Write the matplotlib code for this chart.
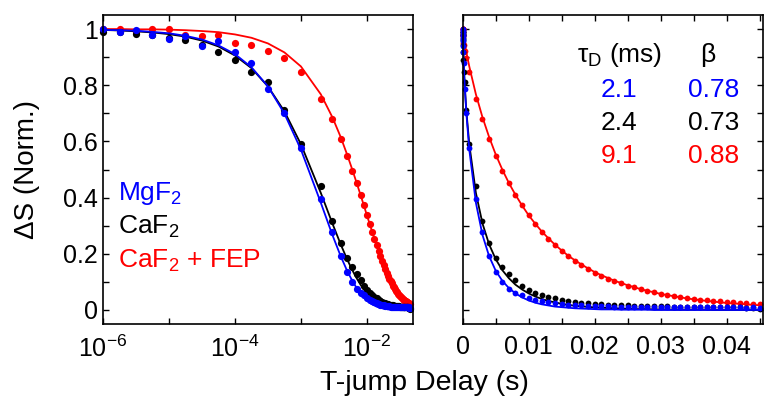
import numpy as np
import matplotlib
matplotlib.use('Agg')
import matplotlib.pyplot as plt
from matplotlib.ticker import MultipleLocator, NullLocator

plt.rcParams['font.family'] = ['Liberation Sans', 'DejaVu Sans']
plt.rcParams['mathtext.fontset'] = 'custom'
plt.rcParams['mathtext.rm'] = 'Liberation Sans'
plt.rcParams['mathtext.it'] = 'Liberation Sans:italic'
plt.rcParams['mathtext.bf'] = 'Liberation Sans:bold'

# T-jump delays in ms (quarter-decade steps, then 1 ms steps)
delay_ms = [0.001, 0.00178, 0.00316, 0.00562, 0.01, 0.0178, 0.0316, 0.0562,
            0.1, 0.178, 0.316, 0.562,
            1, 2, 3, 4, 5, 6, 7, 8, 9, 10,
            11, 12, 13, 14, 15, 16, 17, 18, 19, 20,
            21, 22, 23, 24, 25, 26, 27, 28, 29, 30,
            31, 32, 33, 34, 35, 36, 37, 38, 39, 40,
            41, 42, 43, 44, 45]

mgf2_pts = [1.00, 0.99, 0.996, 0.979, 0.964, 0.974, 0.941, 0.958, 0.917, 0.878, 0.786, 0.700,
            0.575, 0.394, 0.277, 0.192, 0.136, 0.100, 0.075, 0.062, 0.052, 0.042,
            0.036, 0.031, 0.027, 0.024, 0.021, 0.019, 0.017, 0.016, 0.015, 0.014,
            0.013, 0.013, 0.012, 0.012, 0.012, 0.011, 0.012, 0.011, 0.011, 0.012,
            0.011, 0.010, 0.011, 0.011, 0.010, 0.010, 0.011, 0.010, 0.009, 0.010,
            0.009, 0.009, 0.008, 0.009, 0.008]
mgf2_fit = [0.997, 0.996, 0.994, 0.990, 0.985, 0.976, 0.963, 0.942, 0.911, 0.864, 0.796, 0.699,
            0.571, 0.382, 0.267, 0.192, 0.140, 0.104, 0.078, 0.059, 0.045, 0.034,
            0.026, 0.020, 0.016, 0.012, 0.010, 0.008, 0.006, 0.005, 0.004, 0.003,
            0.002, 0.002, 0.002, 0.001, 0.001, 0.001, 0.001, 0.001, 0.0, 0.0,
            0.0, 0.0, 0.0, 0.0, 0.0, 0.0, 0.0, 0.0, 0.0, 0.0,
            0.0, 0.0, 0.0, 0.0, 0.0]

caf2_pts = [0.99, 0.99, 0.982, 0.978, 0.970, 0.960, 0.945, 0.917, 0.890, 0.848, 0.810, 0.712,
            0.591, 0.442, 0.318, 0.238, 0.186, 0.153, 0.127, 0.105, 0.087, 0.072,
            0.062, 0.053, 0.046, 0.041, 0.036, 0.032, 0.029, 0.026, 0.024, 0.022,
            0.020, 0.019, 0.018, 0.017, 0.016, 0.015, 0.015, 0.014, 0.014, 0.013,
            0.013, 0.012, 0.012, 0.012, 0.011, 0.011, 0.011, 0.010, 0.010, 0.010,
            0.009, 0.009, 0.008, 0.006, 0.002]
caf2_fit = [0.997, 0.995, 0.992, 0.988, 0.982, 0.973, 0.959, 0.938, 0.906, 0.861, 0.796, 0.707,
            0.590, 0.417, 0.308, 0.234, 0.181, 0.142, 0.113, 0.090, 0.073, 0.059,
            0.048, 0.039, 0.032, 0.027, 0.022, 0.018, 0.015, 0.013, 0.011, 0.009,
            0.008, 0.007, 0.006, 0.005, 0.004, 0.003, 0.003, 0.003, 0.002, 0.002,
            0.002, 0.001, 0.001, 0.001, 0.001, 0.001, 0.001, 0.0, 0.0, 0.0,
            0.0, 0.0, 0.0, 0.0, 0.0]

fep_pts = [1.00, 1.00, 0.99, 1.00, 1.00, 0.979, 0.976, 0.979, 0.951, 0.943, 0.923, 0.898,
           0.848, 0.751, 0.679, 0.607, 0.548, 0.495, 0.451, 0.409, 0.372, 0.337,
           0.307, 0.279, 0.254, 0.232, 0.210, 0.192, 0.175, 0.160, 0.146, 0.132,
           0.121, 0.112, 0.103, 0.095, 0.087, 0.081, 0.075, 0.069, 0.064, 0.058,
           0.054, 0.050, 0.047, 0.043, 0.040, 0.037, 0.035, 0.033, 0.031, 0.029,
           0.027, 0.025, 0.024, 0.022, 0.021]
fep_fit = [1.000, 1.000, 0.999, 0.999, 0.998, 0.996, 0.993, 0.989, 0.981, 0.969, 0.949, 0.917,
           0.867, 0.768, 0.686, 0.616, 0.554, 0.500, 0.452, 0.410, 0.372, 0.337,
           0.307, 0.279, 0.255, 0.232, 0.212, 0.193, 0.177, 0.162, 0.148, 0.135,
           0.124, 0.114, 0.104, 0.096, 0.088, 0.081, 0.074, 0.068, 0.063, 0.057,
           0.053, 0.049, 0.045, 0.041, 0.038, 0.035, 0.032, 0.030, 0.027, 0.025,
           0.023, 0.022, 0.020, 0.018, 0.017]

series_names = ['MgF$_\\mathregular{2}$', 'CaF$_\\mathregular{2}$', 'CaF$_\\mathregular{2}$ + FEP']
tau_ms = ['2.1', '2.4', '9.1']
beta = ['0.78', '0.73', '0.88']
colors = ['#0000ff', '#000000', '#ff0000']

log_ticks = [1e-6, 1e-5, 1e-4, 1e-3, 1e-2]
log_labels = ['$10^{-6}$', '', '$10^{-4}$', '', '$10^{-2}$']
lin_ticks = [0, 0.01, 0.02, 0.03, 0.04]
lin_labels = ['0', '0.01', '0.02', '0.03', '0.04']

t = np.array(delay_ms) * 1e-3
pts = [mgf2_pts, caf2_pts, fep_pts]
fits = [mgf2_fit, caf2_fit, fep_fit]

fig = plt.figure(figsize=(7.64, 4.03), dpi=100)
ax1 = fig.add_axes([0.1348, 0.196, 0.4058, 0.7667])
ax2 = fig.add_axes([0.6056, 0.196, 0.3930, 0.7667])

for ax, ms in [(ax1, 5.2), (ax2, 4.2)]:
    for i in [2, 1, 0]:
        ax.plot(t, pts[i], 'o', color=colors[i], ms=ms, mew=0, clip_on=False)
        ax.plot(t, fits[i], '-', color=colors[i], lw=1.3)
    ax.set_ylim(-0.05, 1.05)
    ax.yaxis.set_major_locator(MultipleLocator(0.2))
    ax.yaxis.set_minor_locator(MultipleLocator(0.1))
    ax.tick_params(which='both', direction='in', top=True, right=True,
                   length=4, width=1, labelsize=18)
    ax.tick_params(axis='x', pad=8)
    for s in ax.spines.values():
        s.set_linewidth(1.2)

ax1.set_xscale('log')
ax1.set_xlim(1e-6, 0.05)
ax1.set_xticks(log_ticks)
ax1.set_xticklabels(log_labels)
ax1.xaxis.set_minor_locator(NullLocator())
ax1.set_yticks([0, 0.2, 0.4, 0.6, 0.8, 1.0])
ax1.set_yticklabels(['0', '0.2', '0.4', '0.6', '0.8', '1'])

ax2.set_xlim(0, 0.0455)
ax2.set_xticks(lin_ticks)
ax2.set_xticklabels(lin_labels)
ax2.xaxis.set_minor_locator(MultipleLocator(0.005))
ax2.set_yticklabels([])

for i, (name, y) in enumerate(zip(series_names, [0.401, 0.291, 0.181])):
    ax1.text(0.047, y, name, color=colors[i], fontsize=19, va='baseline',
             transform=ax1.transAxes)

ax2.text(0.381, 0.849, '$\\mathregular{\\tau_D}$ (ms)', fontsize=19, va='baseline',
         transform=ax2.transAxes)
ax2.text(0.817, 0.849, 'β', fontsize=19, va='baseline', ha='center',
         transform=ax2.transAxes)
for i, y in enumerate([0.735, 0.628, 0.521]):
    ax2.text(0.521, y, tau_ms[i], color=colors[i], fontsize=19, va='baseline',
             ha='center', transform=ax2.transAxes)
    ax2.text(0.837, y, beta[i], color=colors[i], fontsize=19, va='baseline',
             ha='center', transform=ax2.transAxes)

fig.text(0.035, 0.58, 'ΔS (Norm.)', rotation=90, fontsize=20, ha='center', va='center')
fig.text(0.556, 0.05, 'T-jump Delay (s)', fontsize=20.5, ha='center', va='center')

fig.savefig('out.png', dpi=100)
